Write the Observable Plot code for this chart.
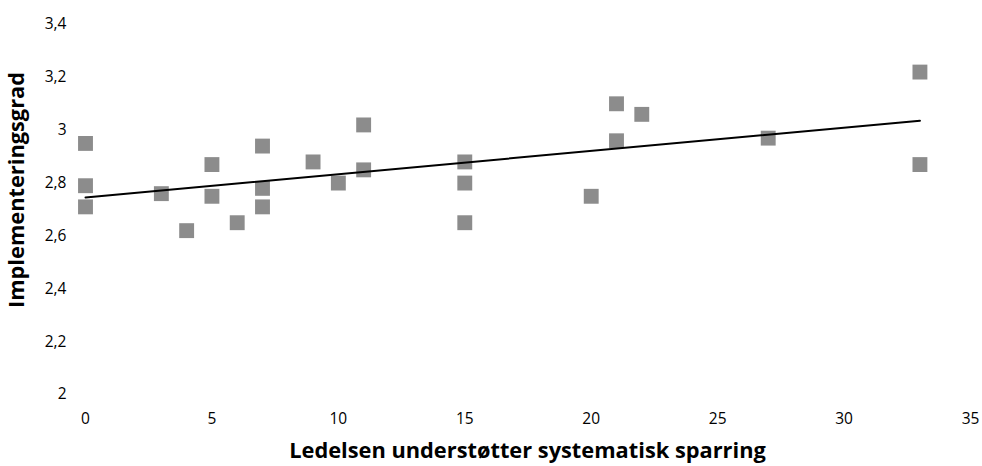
<!DOCTYPE html>
<html>
<head>
<meta charset="utf-8">
<script src="https://cdn.jsdelivr.net/npm/d3@7"></script>
<script src="https://cdn.jsdelivr.net/npm/@observablehq/plot@0.6"></script>
<style>
  html, body { margin: 0; padding: 0; background: #fff; }
  #chart { width: 982px; height: 466px; }
</style>
</head>
<body>
<div id="chart"></div>
<script>
// Data
const sparring = [0, 0, 0, 3, 4, 5, 5, 6, 7, 7, 7, 9, 10, 11, 11, 15, 15, 15, 20, 21, 21, 22, 27, 33, 33];
const implementering = [2.95, 2.79, 2.71, 2.76, 2.62, 2.87, 2.75, 2.65, 2.94, 2.78, 2.71, 2.88, 2.80, 3.02, 2.85, 2.88, 2.80, 2.65, 2.75, 3.10, 2.96, 3.06, 2.97, 3.22, 2.87];
const xTicks = [0, 5, 10, 15, 20, 25, 30, 35];
const yTicks = [2, 2.2, 2.4, 2.6, 2.8, 3, 3.2, 3.4];
const xTitle = "Ledelsen understøtter systematisk sparring";
const yTitle = "Implementeringsgrad";

const data = sparring.map((x, i) => ({x, y: implementering[i]}));
const fmt = v => String(+v.toFixed(1)).replace(".", ",");

const chart = Plot.plot({
  width: 982,
  height: 466,
  marginLeft: 85,
  marginRight: 12,
  marginTop: 24,
  marginBottom: 72,
  style: {fontFamily: "'Open Sans', sans-serif", fontSize: "16px", color: "#000", background: "#fff"},
  x: {domain: [0, 35], ticks: xTicks, tickFormat: d => String(d)},
  y: {domain: [2, 3.4], ticks: yTicks, tickFormat: fmt},
  marks: [
    Plot.axisX({ticks: xTicks, tickSize: 0, tickPadding: 18, tickFormat: d => String(d), label: null, fontSize: 15.5}),
    Plot.axisY({ticks: yTicks, tickSize: 0, tickPadding: 19, tickFormat: fmt, label: null, fontSize: 15.5}),
    Plot.dot(data, {x: "x", y: "y", symbol: "square", r: 8.4, fill: "#8c8c8c", stroke: "none"}),
    Plot.linearRegressionY(data, {x: "x", y: "y", ci: 0, stroke: "#000", strokeWidth: 2})
  ]
});

const svg = d3.select(chart);
svg.append("text")
  .attr("x", (85 + 970) / 2)
  .attr("y", 452)
  .attr("text-anchor", "middle")
  .attr("dominant-baseline", "middle")
  .style("font-family", "'Open Sans', sans-serif")
  .style("font-weight", "bold")
  .style("font-size", "21.8px")
  .attr("fill", "#000")
  .text(xTitle);
svg.append("text")
  .attr("transform", "translate(18,190) rotate(-90)")
  .attr("text-anchor", "middle")
  .attr("dominant-baseline", "middle")
  .style("font-family", "'Open Sans', sans-serif")
  .style("font-weight", "bold")
  .style("font-size", "21.8px")
  .attr("fill", "#000")
  .text(yTitle);

document.getElementById("chart").appendChild(chart);
</script>
</body>
</html>
